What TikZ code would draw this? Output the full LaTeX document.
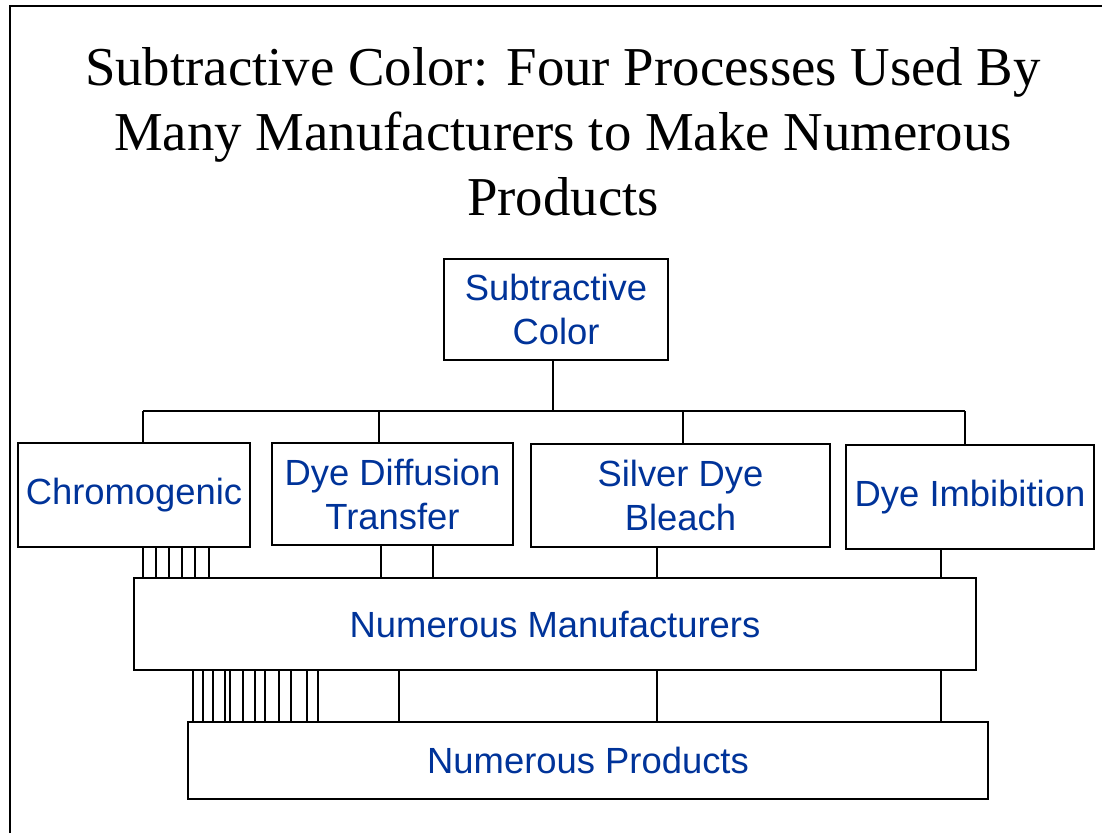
\documentclass[tikz,border=0pt]{standalone}
\usepackage{fontspec}
\setmainfont{Liberation Serif}
\newfontfamily\boxfont{Liberation Sans}
\definecolor{txtblue}{RGB}{0,51,153}
\begin{document}
\begin{tikzpicture}[x=1pt,y=-1pt,
  box/.style={draw=black,line width=2pt,rectangle,inner sep=0pt,align=center,
    text=txtblue,font=\boxfont\fontsize{36.4}{44}\selectfont},
  conn/.style={draw=black,line width=2pt},
  ttl/.style={anchor=base,inner sep=0pt,font=\fontsize{54.8}{65}\selectfont}]
\useasboundingbox (0,0) rectangle (1102,833);
% frame
\draw[line width=2pt] (10,833) -- (10,6) -- (1102,6);
% title
\node[ttl] (t1) at (563,85) {Subtractive Color: Four Processes Used By};
\node[ttl] (t2) at (563,150) {Many Manufacturers to Make Numerous};
\node[ttl] (t3) at (563,215) {Products};
% boxes
\node[box,minimum width=224,minimum height=101] (sc) at (556,309.5) {Subtractive\\Color};
\node[box,minimum width=232,minimum height=104] (chr) at (134,495) {\raisebox{-3pt}{Chromogenic}};
\node[box,minimum width=241,minimum height=102] (ddt) at (392.5,494) {Dye Diffusion\\Transfer};
\node[box,minimum width=299,minimum height=103] (sdb) at (680.5,495.5) {Silver Dye\\Bleach};
\node[box,minimum width=248,minimum height=104] (dim) at (970,497) {\raisebox{-4pt}{Dye Imbibition}};
\node[box,minimum width=842,minimum height=92] (man) at (555,624) {Numerous Manufacturers};
\node[box,minimum width=800,minimum height=77] (prod) at (588,760.5) {Numerous Products};
% tree connectors
\coordinate (barL) at ([xshift=9]chr.north |- 0,411);
\coordinate (barR) at ([xshift=-5]dim.north |- 0,411);
\draw[conn] (barL) -- (barR);
\draw[conn] ([xshift=-3]sc.south) -- ([xshift=-3]sc.south |- barL);
\draw[conn] (barL) -- (barL |- chr.north);
\coordinate (c2) at ([xshift=-13.5]ddt.north);
\draw[conn] (c2) -- (c2 |- barL);
\coordinate (c3) at ([xshift=2.5]sdb.north);
\draw[conn] (c3) -- (c3 |- barL);
\draw[conn] (barR) -- (barR |- dim.north);
% process -> manufacturers
\foreach \dx in {9,22,35,48,61,75}{
  \coordinate (p) at ([xshift=\dx]chr.south);
  \draw[conn] (p) -- (p |- man.north);
}
\foreach \dx in {-11.5,40.5}{
  \coordinate (p) at ([xshift=\dx]ddt.south);
  \draw[conn] (p) -- (p |- man.north);
}
\coordinate (p) at ([xshift=-23.5]sdb.south);
\draw[conn] (p) -- (p |- man.north);
\coordinate (p) at ([xshift=-29]dim.south);
\draw[conn] (p) -- (p |- man.north);
% manufacturers -> products
\foreach \xx in {193,203,213,225,230,243,255,265,279,291,307,318,399,657,941}{
  \coordinate (q) at ([xshift=\xx-555]man.south);
  \draw[conn] (q) -- (q |- prod.north);
}
\end{tikzpicture}
\end{document}
